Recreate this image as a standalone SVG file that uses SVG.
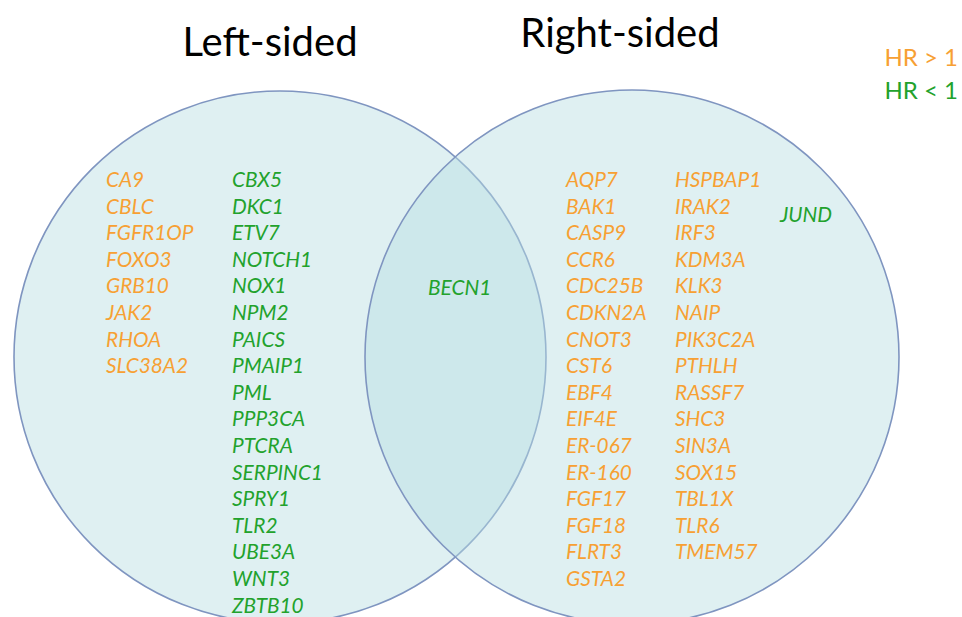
<svg xmlns="http://www.w3.org/2000/svg" width="962" height="617" viewBox="0 0 962 617">
<style>
.set{fill:#b8dde3;fill-opacity:0.45;stroke:#7f95c0;stroke-width:1.6}
.title{font-family:Lato,"Liberation Sans",sans-serif;font-size:40px;fill:#000}
.leg{font-family:Lato,"Liberation Sans",sans-serif;font-size:24px}
.g{font-family:Lato,"Liberation Sans",sans-serif;font-size:20.8px;font-style:italic}
.up{fill:#f7a033}
.dn{fill:#22a22c}
</style>
<rect width="962" height="617" fill="#ffffff"/>
<g id="left-set">
<circle class="set" cx="280" cy="357" r="266"/>
<text class="title" x="270" y="56" text-anchor="middle">Left-sided</text>
</g>
<g id="right-set">
<circle class="set" cx="632" cy="357" r="267"/>
<text class="title" x="620" y="47" text-anchor="middle">Right-sided</text>
</g>
<g id="legend">
<text class="leg up" x="958" y="66" text-anchor="end">HR &gt; 1</text>
<text class="leg dn" x="958" y="99" text-anchor="end">HR &lt; 1</text>
</g>
<g id="left-only-up" class="g up">
<text x="106" y="187">CA9</text>
<text x="106" y="213.6">CBLC</text>
<text x="106" y="240.2">FGFR1OP</text>
<text x="106" y="266.8">FOXO3</text>
<text x="106" y="293.4">GRB10</text>
<text x="106" y="320">JAK2</text>
<text x="106" y="346.6">RHOA</text>
<text x="106" y="373.2">SLC38A2</text>
</g>
<g id="left-only-down" class="g dn">
<text x="232" y="187">CBX5</text>
<text x="232" y="213.6">DKC1</text>
<text x="232" y="240.2">ETV7</text>
<text x="232" y="266.8">NOTCH1</text>
<text x="232" y="293.4">NOX1</text>
<text x="232" y="320">NPM2</text>
<text x="232" y="346.6">PAICS</text>
<text x="232" y="373.2">PMAIP1</text>
<text x="232" y="399.8">PML</text>
<text x="232" y="426.4">PPP3CA</text>
<text x="232" y="453">PTCRA</text>
<text x="232" y="479.6">SERPINC1</text>
<text x="232" y="506.2">SPRY1</text>
<text x="232" y="532.8">TLR2</text>
<text x="232" y="559.4">UBE3A</text>
<text x="232" y="586">WNT3</text>
<text x="232" y="612.6">ZBTB10</text>
</g>
<g id="shared" class="g dn">
<text x="428" y="295">BECN1</text>
</g>
<g id="right-only-up-1" class="g up">
<text x="566" y="187">AQP7</text>
<text x="566" y="213.6">BAK1</text>
<text x="566" y="240.2">CASP9</text>
<text x="566" y="266.8">CCR6</text>
<text x="566" y="293.4">CDC25B</text>
<text x="566" y="320">CDKN2A</text>
<text x="566" y="346.6">CNOT3</text>
<text x="566" y="373.2">CST6</text>
<text x="566" y="399.8">EBF4</text>
<text x="566" y="426.4">EIF4E</text>
<text x="566" y="453">ER-067</text>
<text x="566" y="479.6">ER-160</text>
<text x="566" y="506.2">FGF17</text>
<text x="566" y="532.8">FGF18</text>
<text x="566" y="559.4">FLRT3</text>
<text x="566" y="586">GSTA2</text>
</g>
<g id="right-only-up-2" class="g up">
<text x="675" y="187">HSPBAP1</text>
<text x="675" y="213.6">IRAK2</text>
<text x="675" y="240.2">IRF3</text>
<text x="675" y="266.8">KDM3A</text>
<text x="675" y="293.4">KLK3</text>
<text x="675" y="320">NAIP</text>
<text x="675" y="346.6">PIK3C2A</text>
<text x="675" y="373.2">PTHLH</text>
<text x="675" y="399.8">RASSF7</text>
<text x="675" y="426.4">SHC3</text>
<text x="675" y="453">SIN3A</text>
<text x="675" y="479.6">SOX15</text>
<text x="675" y="506.2">TBL1X</text>
<text x="675" y="532.8">TLR6</text>
<text x="675" y="559.4">TMEM57</text>
</g>
<g id="right-only-down" class="g dn">
<text x="780" y="222">JUND</text>
</g>
</svg>
